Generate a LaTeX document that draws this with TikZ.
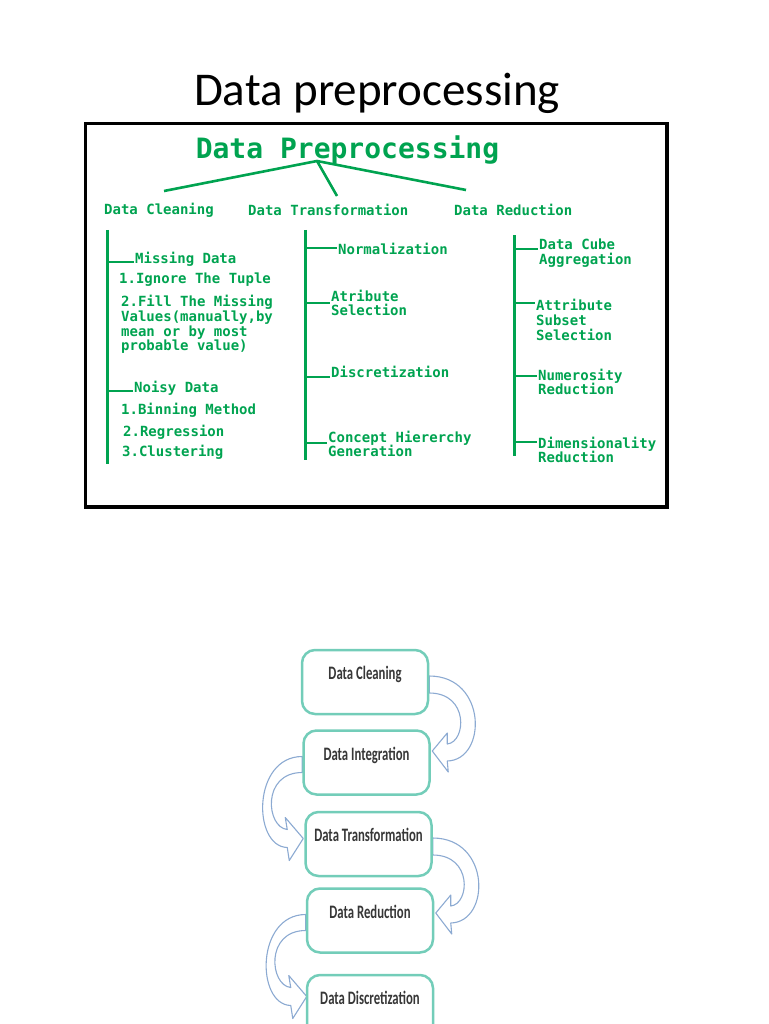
\documentclass[tikz,border=0pt]{standalone}
\usepackage{fontspec}
\setmainfont{Carlito}
\newfontfamily\monofont{DejaVu Sans Mono}
\newfontfamily\boxfont[FakeStretch=0.67]{Carlito}
\usetikzlibrary{backgrounds}

\definecolor{leafgreen}{RGB}{0,163,80}
\definecolor{boxteal}{RGB}{115,205,185}
\definecolor{arrowblue}{RGB}{140,170,210}
\definecolor{boxtext}{RGB}{55,55,55}

\tikzset{
  leaf/.style={anchor=west, inner sep=1pt, align=left, text=leafgreen,
    font=\monofont\bfseries\fontsize{14}{14.7}\selectfont},
  stem/.style={draw=leafgreen, line width=3pt},
  twig/.style={draw=leafgreen, line width=2.6pt},
  stage/.style={draw=boxteal, line width=2.5pt, rounded corners=13pt, fill=white,
    minimum width=126pt, minimum height=64pt, text height=13pt, text depth=18pt,
    text=boxtext, font=\boxfont\bfseries\fontsize{19}{19}\selectfont},
  bendarrow/.style={draw=arrowblue, fill=white, line width=1.1pt, line join=round},
  bendright/.pic={
    \draw[bendarrow] (0,-6) .. controls (58,-6) and (58,78) .. (18,79) -- (19,90) -- (3,69)
      -- (18,51) -- (18,62) .. controls (37,60) and (40,11) .. (0,11) -- cycle;
  },
  bendleft/.pic={
    \draw[bendarrow] (0,-6) .. controls (-50,-6) and (-50,84) .. (-15,85) -- (-13,98) -- (1,76)
      -- (-17,55) -- (-15,67) .. controls (-36,65) and (-41,10) .. (0,10) -- cycle;
  },
}

\begin{document}
\begin{tikzpicture}[x=1pt, y=-1pt]
  \useasboundingbox (0,0) rectangle (768,1024);
  \clip (0,0) rectangle (768,1024);

  \node[font=\fontsize{47}{47}\selectfont, anchor=base] (title) at (377,106) {Data preprocessing};

  \draw[line width=3.5pt] (85.5,123.5) rectangle (667,507);

  \node[text=leafgreen, font=\monofont\bfseries\fontsize{28}{28}\selectfont] (head) at (347.5,150) {Data Preprocessing};
  \coordinate (r) at (317,161);
  \coordinate (r1) at (164,191);
  \coordinate (r2) at (337,196);
  \coordinate (r3) at (466,190);
  \draw[twig] (r) -- (r1);
  \draw[twig] (r) -- (r2);
  \draw[twig] (r) -- (r3);

  \node[leaf] (clean) at (103,210) {Data Cleaning};
  \node[leaf] (trans) at (247,210) {Data Transformation};
  \node[leaf] (red) at (453,210) {Data Reduction};

  \coordinate (c0) at (107,230);
  \coordinate (c9) at (107,464);
  \draw[stem] (c0) -- (c9);
  \node[leaf] (miss) at (134,259) {Missing Data};
  \node[leaf] (ign) at (118,280) {1.Ignore The Tuple};
  \node[leaf] (fill) at (120,324.5) {2.Fill The Missing\\Values(manually,by\\mean or by most\\probable value)};
  \node[leaf] (noisy) at (133,388) {Noisy Data};
  \node[leaf] (bin) at (120,410) {1.Binning Method};
  \node[leaf] (reg) at (122,432) {2.Regression};
  \node[leaf] (clu) at (121,452) {3.Clustering};
  \coordinate (c1) at (107,262);
  \coordinate (c2) at (107,391);
  \draw[twig] (c1) -- (c1 -| miss.west);
  \draw[twig] (c2) -- (c2 -| noisy.west);

  \coordinate (t0) at (305,230);
  \coordinate (t9) at (305,460);
  \draw[stem] (t0) -- (t9);
  \node[leaf] (norm) at (337,249) {Normalization};
  \node[leaf] (atr) at (330,303) {Atribute\\Selection};
  \node[leaf] (disc) at (330,372) {Discretization};
  \node[leaf] (conc) at (327,444) {Concept Hiererchy\\Generation};
  \coordinate (t1) at (305,248);
  \coordinate (t2) at (305,303);
  \coordinate (t3) at (305,377);
  \coordinate (t4) at (305,443);
  \draw[twig] (t1) -- (t1 -| norm.west);
  \draw[twig] (t2) -- (t2 -| atr.west);
  \draw[twig] (t3) -- (t3 -| disc.west);
  \draw[twig] (t4) -- (t4 -| conc.west);

  \coordinate (d0) at (514,235);
  \coordinate (d9) at (514,456);
  \draw[stem] (d0) -- (d9);
  \node[leaf] (cube) at (538,253) {Data Cube\\Aggregation};
  \node[leaf] (attr) at (535,320) {Attribute\\Subset\\Selection};
  \node[leaf] (num) at (537,382) {Numerosity\\Reduction};
  \node[leaf] (dim) at (537,450) {Dimensionality\\Reduction};
  \coordinate (d1) at (514,249);
  \coordinate (d2) at (514,303);
  \coordinate (d3) at (514,376);
  \coordinate (d4) at (514,442);
  \draw[twig] (d1) -- (d1 -| cube.west);
  \draw[twig] (d2) -- (d2 -| attr.west);
  \draw[twig] (d3) -- (d3 -| num.west);
  \draw[twig] (d4) -- (d4 -| dim.west);

  \node[stage] (s1) at (365,682) {Data Cleaning};
  \node[stage] (s2) at (366.5,762.5) {Data Integration};
  \node[stage] (s3) at (368.5,844) {Data Transformation};
  \node[stage] (s4) at (370,920.5) {Data Reduction};
  \node[stage] (s5) at (370,1007) {Data Discretization};
  \begin{scope}[on background layer]
    \pic at (s1.east) {bendright};
    \pic at (s2.west) {bendleft};
    \pic at (s3.east) {bendright};
    \pic at (s4.west) {bendleft};
  \end{scope}
\end{tikzpicture}
\end{document}
